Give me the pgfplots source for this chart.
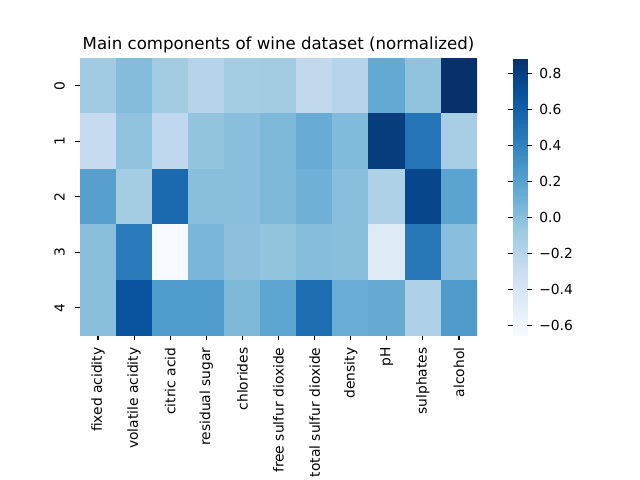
\documentclass[border=0pt]{standalone}
\usepackage{fontspec}
\setmainfont{DejaVu Sans}
\usepackage{pgfplots}
\pgfplotsset{compat=1.18}
\pgfplotsset{
 colormap={mplblues}{rgb255=(247,251,255) rgb255=(222,235,247) rgb255=(198,219,239) rgb255=(158,202,225) rgb255=(107,174,214) rgb255=(66,146,198) rgb255=(33,113,181) rgb255=(8,81,156) rgb255=(8,48,107)}
}
\pgfplotstableread{
x y z
0 0 -0.09
1 0 0.02
2 0 -0.10
3 0 -0.19
4 0 -0.11
5 0 -0.10
6 0 -0.25
7 0 -0.19
8 0 0.15
9 0 -0.03
10 0 0.885
0 1 -0.27
1 1 -0.03
2 1 -0.24
3 1 -0.04
4 1 0.00
5 1 0.04
6 1 0.13
7 1 0.03
8 1 0.81
9 1 0.48
10 1 -0.12
0 2 0.21
1 2 -0.11
2 2 0.55
3 2 0.00
4 2 0.00
5 2 0.04
6 2 0.10
7 2 0.00
8 2 -0.16
9 2 0.76
10 2 0.19
0 3 0.00
1 3 0.44
2 3 -0.656
3 3 0.06
4 3 -0.01
5 3 -0.04
6 3 0.01
7 3 0.00
8 3 -0.46
9 3 0.46
10 3 0.00
0 4 0.00
1 4 0.68
2 4 0.24
3 4 0.24
4 4 0.04
5 4 0.18
6 4 0.52
7 4 0.12
8 4 0.14
9 4 -0.16
10 4 0.25
}\datatable
\begin{document}
\begin{tikzpicture}
\useasboundingbox (0,0) rectangle (460.8bp,345.6bp);
\begin{axis}[
 at={(57.6bp,104.04bp)}, anchor=south west,
 scale only axis, width=285.84bp, height=199.8bp,
 colormap name=mplblues,
 point meta min=-0.656, point meta max=0.885,
 xmin=-0.5, xmax=10.5, ymin=-0.5, ymax=4.5,
 y dir=reverse,
 axis line style={draw=none},
 tick align=outside, major tick length=3.5bp,
 every tick/.style={black, line width=0.8bp},
 xtick={0,...,10}, ytick={0,...,4},
 xtick pos=bottom, ytick pos=left,
 xticklabels={fixed acidity, volatile acidity, citric acid, residual sugar, chlorides, free sulfur dioxide, total sulfur dioxide, density, pH, sulphates, alcohol},
 yticklabels={0,1,2,3,4},
 xticklabel shift=5bp, yticklabel shift=7.5bp,
 xticklabel style={rotate=90, anchor=east, inner sep=0pt, font=\fontsize{10}{12}\selectfont},
 yticklabel style={rotate=90, anchor=base, inner sep=0pt, font=\fontsize{10}{12}\selectfont},
 title={Main components of wine dataset (normalized)},
 every axis title/.style={font=\fontsize{12}{14}\selectfont, at={(0.5,1)}, anchor=base, yshift=6bp, inner sep=0pt},
 colorbar,
 colorbar style={
   at={(parent axis.north east)}, anchor=north west, xshift=17.6bp,
   width=10.08bp,
   axis line style={draw=none},
   tick align=outside, major tick length=3.5bp,
   every tick/.style={black, line width=0.8bp},
   ytick={-0.6,-0.4,-0.2,0,0.2,0.4,0.6,0.8},
   yticklabels={−0.6,−0.4,−0.2,0.0,0.2,0.4,0.6,0.8},
   yticklabel shift=5bp,
   yticklabel style={anchor=west, inner sep=0pt, font=\fontsize{10}{12}\selectfont},
 },
]
\addplot[matrix plot*, mesh/cols=11, point meta=explicit] table[x=x, y=y, meta=z] {\datatable};
\end{axis}
\end{tikzpicture}
\end{document}
